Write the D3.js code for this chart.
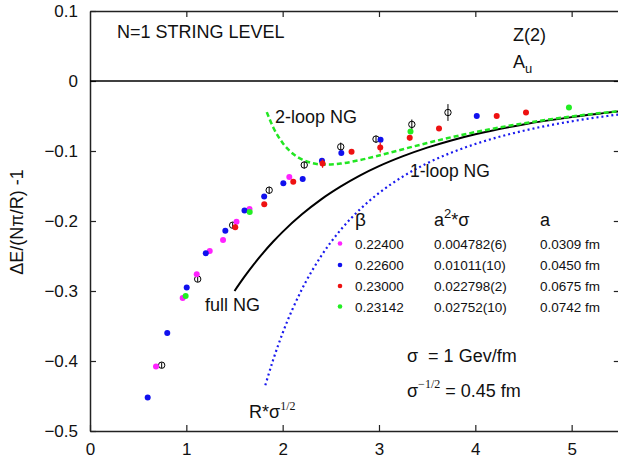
<!DOCTYPE html>
<html><head><meta charset="utf-8">
<script src="https://cdn.jsdelivr.net/npm/d3@7"></script>
<style>
html,body{margin:0;padding:0;background:#fff;}
svg{display:block;font-family:"Liberation Sans",Arial,sans-serif;}
</style>
</head><body>
<svg id="c" width="618" height="458"></svg>
<script>
// ---- data ----
const xTicks = [0,1,2,3,4,5];
const yTicks = [-0.5,-0.4,-0.3,-0.2,-0.1,0,0.1];

// beta = 0.22400 (magenta)
const magX = [0.685,0.962,1.108,1.243,1.381,1.521,1.656,2.069];
const magY = [-0.408,-0.310,-0.276,-0.243,-0.227,-0.201,-0.183,-0.137];
// beta = 0.22600 (blue)
const bluX = [0.599,0.802,1.004,1.202,1.405,1.604,1.808,2.007,2.208,2.408,2.609,3.016,4.015];
const bluY = [-0.452,-0.360,-0.295,-0.246,-0.214,-0.185,-0.165,-0.146,-0.140,-0.114,-0.103,-0.084,-0.050];
// beta = 0.23000 (red)
const redX = [1.508,1.809,2.110,2.414,2.715,3.013,3.319,3.623,4.222,4.526];
const redY = [-0.209,-0.176,-0.144,-0.118,-0.101,-0.095,-0.081,-0.068,-0.050,-0.045];
const redE = [0.004,0,0,0.006,0,0.007,0.004,0,0,0];
// beta = 0.23142 (green)
const grnX = [0.993,1.658,3.327,4.972];
const grnY = [-0.307,-0.187,-0.072,-0.038];
// open circles (other data)
const opnX = [0.744,1.118,1.481,1.860,2.224,2.603,2.969,3.341,3.716];
const opnY = [-0.406,-0.283,-0.206,-0.156,-0.120,-0.094,-0.083,-0.062,-0.045];
const opnE = [0.004,0.004,0.004,0.005,0.005,0.006,0.005,0.007,0.012];

// theory curves
const fullR = [1.5,1.6,1.7,1.8,1.9,2.0,2.2,2.4,2.6,2.8,3.0,3.25,3.5,3.75,4.0,4.5,5.0,5.5];
const fullV = [-0.3000,-0.2802,-0.2619,-0.2451,-0.2297,-0.2155,-0.1905,-0.1691,-0.1510,-0.1352,-0.1217,-0.1074,-0.0952,-0.0849,-0.0761,-0.0621,-0.0516,-0.0434];
const oneR = [1.82,1.9,2.0,2.2,2.4,2.6,2.8,3.0,3.25,3.5,3.75,4.0,4.5,5.0,5.5];
const oneV = [-0.4347,-0.3989,-0.3600,-0.2975,-0.2500,-0.2130,-0.1837,-0.1600,-0.1363,-0.1175,-0.1024,-0.0900,-0.0711,-0.0576,-0.0476];
const twoR = [1.835,1.9,2.0,2.1,2.2,2.3,2.4,2.5,2.6,2.8,3.0,3.25,3.5,3.75,4.0,4.5,5.0,5.5];
const twoV = [-0.0445,-0.0656,-0.0885,-0.1032,-0.1121,-0.1170,-0.1191,-0.1192,-0.1180,-0.1130,-0.1064,-0.0974,-0.0886,-0.0804,-0.0730,-0.0605,-0.0506,-0.0429];

// legend table
const legBeta = ["0.22400","0.22600","0.23000","0.23142"];
const legSig  = ["0.004782(6)","0.01011(10)","0.022798(2)","0.02752(10)"];
const legA    = ["0.0309 fm","0.0450 fm","0.0675 fm","0.0742 fm"];
const colors  = ["#ff22ff","#1010ee","#ee1111","#22ee22"];

// ---- drawing ----
const svg = d3.select("#c");
const L = 90, T = 11, B = 431;
const x = d3.scaleLinear().domain([0,5.5]).range([L, L + 5.5*96.33]);
const y = d3.scaleLinear().domain([-0.5,0.1]).range([B, T]);
const R = x(5.5);

const axCol = "#222";
function styleAxis(g, labels){
  g.select(".domain").attr("stroke",axCol).attr("stroke-width",1.5);
  g.selectAll(".tick line").attr("stroke",axCol).attr("stroke-width",1.2);
  g.selectAll(".tick text").attr("fill","#111").style("font-size","17px")
    .style("font-family","'Liberation Sans',Arial,sans-serif");
  if(!labels) g.selectAll(".tick text").remove();
}
svg.append("g").attr("transform",`translate(0,${B})`)
  .call(d3.axisBottom(x).tickValues(xTicks).tickSizeInner(-6).tickSizeOuter(0).tickPadding(12).tickFormat(d3.format("d")))
  .call(g=>styleAxis(g,true));
svg.append("g").attr("transform",`translate(0,${T})`)
  .call(d3.axisTop(x).tickValues(xTicks.slice(1)).tickSizeInner(-6).tickSizeOuter(0))
  .call(g=>styleAxis(g,false));
svg.append("g").attr("transform",`translate(${L},0)`)
  .call(d3.axisLeft(y).tickValues(yTicks).tickSizeInner(-6).tickSizeOuter(0).tickPadding(12)
    .tickFormat(d=> d===0 ? "0" : d3.format(".1f")(d)))
  .call(g=>styleAxis(g,true));
svg.append("g").attr("transform",`translate(${R},0)`)
  .call(d3.axisRight(y).tickValues(yTicks.slice(1,-1)).tickSizeInner(-6).tickSizeOuter(0))
  .call(g=>styleAxis(g,false));

// zero line
svg.append("line").attr("x1",L).attr("x2",R).attr("y1",y(0)).attr("y2",y(0))
  .attr("stroke","#000").attr("stroke-width",1.5);

// curves
const line = d3.line().x(d=>x(d[0])).y(d=>y(d[1])).curve(d3.curveMonotoneX);
svg.append("path").datum(d3.zip(oneR,oneV)).attr("d",line)
  .attr("fill","none").attr("stroke","#1a1aee").attr("stroke-width",2.2).attr("stroke-dasharray","2,3");
svg.append("path").datum(d3.zip(fullR,fullV)).attr("d",line)
  .attr("fill","none").attr("stroke","#000").attr("stroke-width",2);
svg.append("path").datum(d3.zip(twoR,twoV)).attr("d",line)
  .attr("fill","none").attr("stroke","#22e622").attr("stroke-width",2.5).attr("stroke-dasharray","5,3");

// open circles with error bars
const og = svg.append("g");
d3.zip(opnX,opnY,opnE).forEach(([a,b,e])=>{
  og.append("line").attr("x1",x(a)).attr("x2",x(a)).attr("y1",y(b-e)).attr("y2",y(b+e))
    .attr("stroke","#000").attr("stroke-width",1);
  og.append("circle").attr("cx",x(a)).attr("cy",y(b)).attr("r",3.2)
    .attr("fill","none").attr("stroke","#000").attr("stroke-width",1);
});

// coloured series
function dots(xs,ys,col,errs){
  const g = svg.append("g");
  xs.forEach((a,i)=>{
    const e = errs ? errs[i] : 0;
    if(e>0) g.append("line").attr("x1",x(a)).attr("x2",x(a)).attr("y1",y(ys[i]-e)).attr("y2",y(ys[i]+e))
      .attr("stroke",col).attr("stroke-width",1.2);
    g.append("circle").attr("cx",x(a)).attr("cy",y(ys[i])).attr("r",3).attr("fill",col);
  });
}
dots(magX,magY,colors[0]);
dots(bluX,bluY,colors[1]);
dots(redX,redY,colors[2],redE);
dots(grnX,grnY,colors[3]);

// texts
const txt = (xx,yy,s,size,extra)=>{
  const t = svg.append("text").attr("x",xx).attr("y",yy).style("font-size",size+"px").attr("fill","#111").text(s);
  if(extra) extra(t);
  return t;
};
txt(117,38,"N=1 STRING LEVEL",18);
txt(513,41,"Z(2)",18);
const au = txt(513,68,"A",18);
au.append("tspan").attr("dy",5).style("font-size","13px").text("u");

txt(275,123,"2-loop NG",18);
txt(410,177,"1-loop NG",17.5);
txt(205,311,"full NG",18);
const rs = txt(249,418,"R*σ",18);
rs.append("tspan").attr("dy",-8).style("font-size","12px").style("font-family","'Liberation Serif',serif").text("1/2");

// y axis title
svg.append("text").attr("transform","translate(23,222) rotate(-90)").attr("text-anchor","middle")
  .style("font-size","18px").attr("fill","#111").text("ΔE/(Nπ/R) -1");

// legend header
txt(355,226,"β",19);
const hs = txt(434,226,"a",18);
hs.append("tspan").attr("dy",-8).style("font-size","13px").text("2");
hs.append("tspan").attr("dy",8).text("*σ");
txt(540,226,"a",18);
const rowY = [243.5,265,286,306.5];
legBeta.forEach((b,i)=>{
  svg.append("circle").attr("cx",340).attr("cy",rowY[i]).attr("r",2.3).attr("fill",colors[i]);
  txt(355,rowY[i]+5,b,13.5);
  txt(434,rowY[i]+5,legSig[i],13.5);
  txt(540,rowY[i]+5,legA[i],13.5);
});

const s1 = txt(407,362,"σ  = 1 Gev/fm",18);
s1.attr("xml:space","preserve").style("white-space","pre");
const s2 = txt(407,397,"σ",18);
s2.append("tspan").attr("dy",-9).style("font-size","12px").style("font-family","'Liberation Serif',serif").text("−1/2");
s2.append("tspan").attr("dy",9).text(" = 0.45 fm");
</script>
</body></html>
